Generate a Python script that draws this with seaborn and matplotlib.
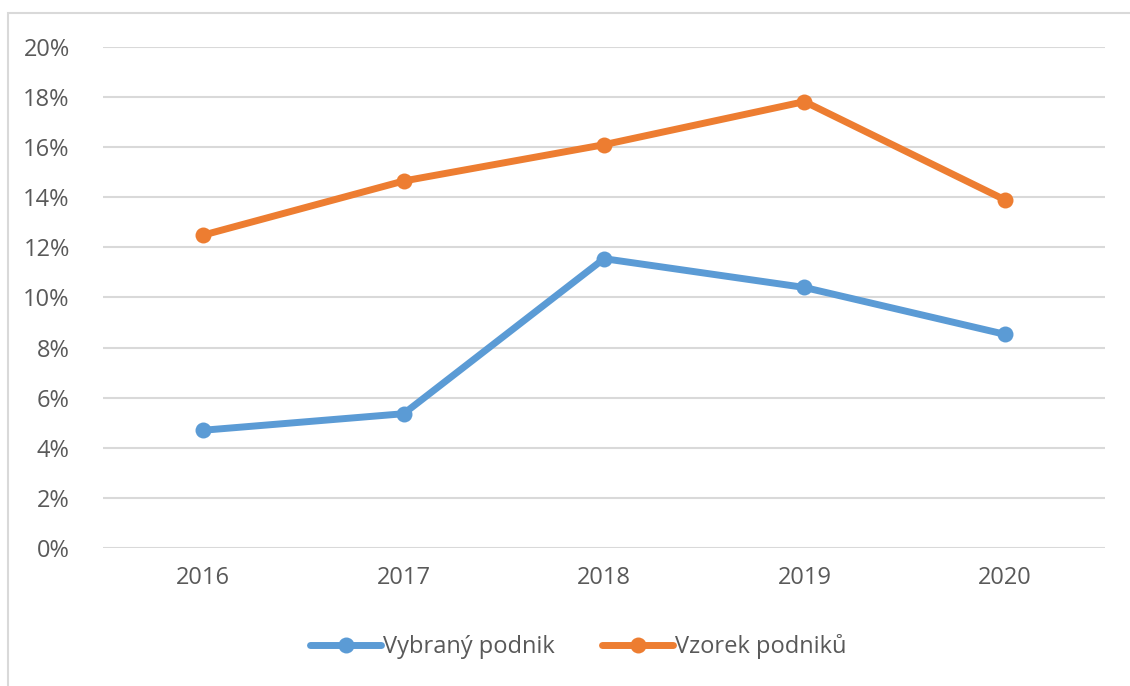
import matplotlib
matplotlib.use("Agg")
import matplotlib.pyplot as plt
import seaborn as sns
import pandas as pd
from matplotlib.ticker import PercentFormatter, MultipleLocator
from matplotlib.patches import Rectangle

# Data (percent values)
roky = ["2016", "2017", "2018", "2019", "2020"]
vybrany_podnik = [4.70, 5.36, 11.55, 10.40, 8.53]
vzorek_podniku = [12.49, 14.65, 16.10, 17.82, 13.90]
serie = ["Vybraný podnik", "Vzorek podniků"]
barvy = ["#5B9BD5", "#ED7D31"]

sns.set_theme(style="white")
plt.rcParams["font.family"] = ["Open Sans", "DejaVu Sans"]
text_col = "#595959"

fig = plt.figure(figsize=(11.3, 6.86), dpi=100)
ax = fig.add_axes([0.0912, 0.2012, 0.8867, 0.7303])

# Excel-like chart border (partly cropped at the right/bottom)
fig.patches.append(Rectangle((8 / 1130, -0.1), 1.2, (686 - 13) / 686 + 0.1,
                             transform=fig.transFigure, fill=False,
                             edgecolor="#D9D9D9", linewidth=1.5))

for nazev, hodnoty, barva in zip(serie, [vybrany_podnik, vzorek_podniku], barvy):
    sns.lineplot(x=roky, y=hodnoty, ax=ax, color=barva, label=nazev,
                 marker="o", markersize=11.5, markeredgewidth=0,
                 linewidth=5, solid_capstyle="round")

ax.set_xlim(-0.5, 4.5)
ax.set_ylim(0, 20)
ax.yaxis.set_major_locator(MultipleLocator(2))
ax.yaxis.set_major_formatter(PercentFormatter(xmax=100, decimals=0))
ax.grid(axis="y", color="#D9D9D9", linewidth=1.5)
ax.grid(axis="x", visible=False)
ax.set_axisbelow(True)
for s in ax.spines.values():
    s.set_visible(False)
ax.tick_params(axis="both", length=0, labelsize=17, labelcolor=text_col)
ax.tick_params(axis="y", pad=24)
ax.tick_params(axis="x", pad=13)
ax.set_xlabel("")
ax.set_ylabel("")

ax.legend(loc="center", bbox_to_anchor=(0.512, 0.0569), bbox_transform=fig.transFigure,
          ncol=2, frameon=False, fontsize=17, labelcolor=text_col,
          handlelength=3.0, handletextpad=0.1, columnspacing=2.0)

fig.savefig("out.png", dpi=100)
